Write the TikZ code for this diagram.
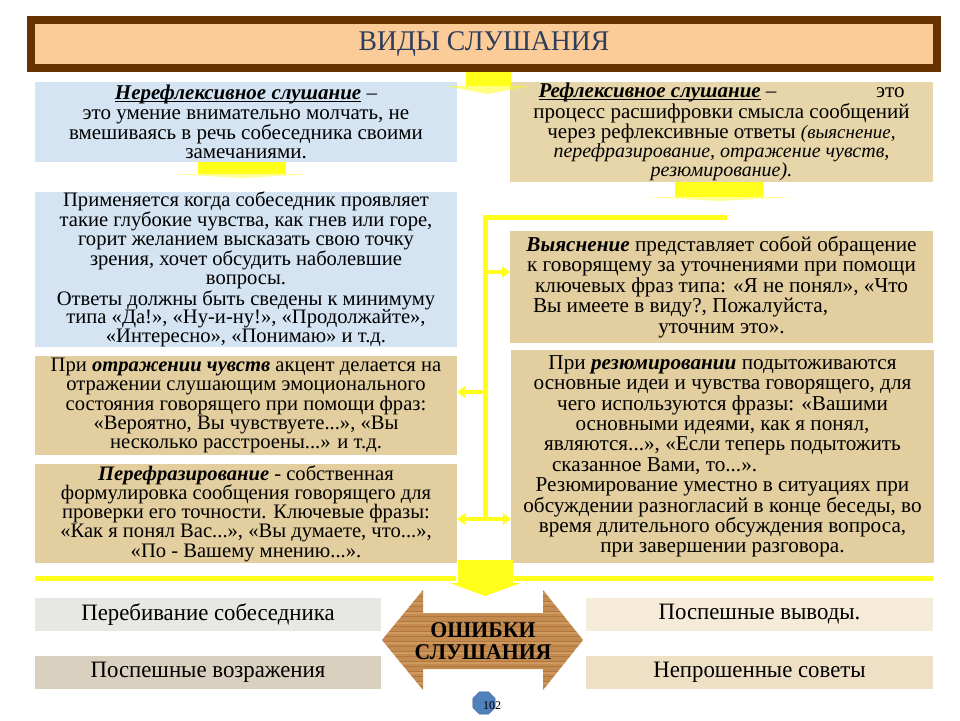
\documentclass[tikz,border=0pt]{standalone}
\usepackage{fontspec}
\setmainfont{Liberation Serif}
\newfontfamily\condf[FakeStretch=0.97]{Liberation Serif}
\usetikzlibrary{arrows.meta,shapes.geometric}
\newcommand\myul[1]{\setbox0\hbox{#1}\rlap{\rule[-2.2pt]{\wd0}{0.9pt}}\box0\relax}
\definecolor{brownb}{HTML}{663300}
\definecolor{peach}{HTML}{FBCB98}
\definecolor{titlec}{HTML}{2E3D5C}
\definecolor{bluebg}{HTML}{D4E4F2}
\definecolor{tanbg}{HTML}{E2CE9E}
\definecolor{tanbgb}{HTML}{E6D6A9}
\definecolor{yel}{HTML}{FFFF1A}
\definecolor{grayA}{HTML}{E7E7E4}
\definecolor{grayB}{HTML}{D9D0BF}
\definecolor{creamA}{HTML}{F5EBD8}
\definecolor{creamB}{HTML}{EEE0C5}
\definecolor{wood}{HTML}{C48B50}
\definecolor{woodd}{HTML}{9E6630}
\definecolor{woodl}{HTML}{D8A468}
\definecolor{pgblue}{HTML}{4F81BD}
\begin{document}
\begin{tikzpicture}[x=1pt,y=-1pt,
  box/.style={anchor=north west,inner sep=0pt,outer sep=0pt,align=center,text=black},
  condtext/.style={font=\fontsize{21}{19.8}\selectfont},
  midl/.style={font=\fontsize{20.6}{19.2}\selectfont},
  midr/.style={font=\fontsize{21.2}{20.4}\selectfont},
  bottext/.style={font=\condf\fontsize{23.5}{21}\selectfont},
  ybar/.style={draw=yel,line width=5pt},
  yarr/.style={draw=yel,line width=4pt,-{Triangle[length=8pt,width=11pt]}},
  yshape/.style={fill=yel}
]
\useasboundingbox (0,0) rectangle (960,720);
\fill[white] (0,0) rectangle (960,720);

% title
\node[box,fill=peach,draw=brownb,line width=8pt,minimum width=906pt,minimum height=48pt,
  font=\condf\fontsize{28.5}{28}\selectfont,text=titlec] (title) at (31,20) {ВИДЫ СЛУШАНИЯ};

% top boxes
\node[box,fill=bluebg,minimum width=422pt,minimum height=80pt,condtext] (nonrefl) at (35,82)
 {\myul{\textbf{\textit{Нерефлексивное слушание}}} –\\
  это умение внимательно молчать, не\\
  вмешиваясь в речь собеседника своими\\
  замечаниями.};
\node[box,fill=tanbgb,minimum width=423pt,minimum height=100pt,font=\fontsize{21}{19}\selectfont] (refl) at (510,82)
 {\makebox[366pt]{\myul{\textbf{\textit{Рефлексивное слушание}}} –\hfill это}\\
  процесс расшифровки смысла сообщений\\
  через рефлексивные ответы {\itshape\fontsize{19}{18}\selectfont (выяснение,}\\
  {\itshape\fontsize{20}{18}\selectfont перефразирование, отражение чувств,}\\
  {\itshape\fontsize{20}{18}\selectfont резюмирование).}};

% yellow block arrows under top boxes
\fill[yshape] ([yshift=-4pt]title.south -| 466,0) rectangle (511,86);
\fill[yel,opacity=0.55] (445,86) -- (530,86) -- (488,94) -- cycle;
\fill[yshape] (nonrefl.south -| 198,0) rectangle (286,174);
\fill[yel,opacity=0.45] (172,174) -- (312,174) -- (242,178) -- cycle;
\fill[yshape] (refl.south -| 675,0) rectangle (763,197);
\fill[yel,opacity=0.45] (645,197) -- (795,197) -- (719,201) -- cycle;

% middle boxes
\node[box,fill=bluebg,minimum width=422pt,minimum height=155pt,font=\fontsize{20.6}{18.9}\selectfont] (usage) at (35,192)
 {Применяется когда собеседник проявляет\\
  такие глубокие чувства, как гнев или горе,\\
  горит желанием высказать свою точку\\
  зрения, хочет обсудить наболевшие\\
  вопросы.\\
  Ответы должны быть сведены к минимуму\\
  типа «Да!», «Ну-и-ну!», «Продолжайте»,\\
  «Интересно», «Понимаю» и т.д.};
\node[box,fill=tanbg,minimum width=422pt,minimum height=99pt,midl] (otr) at (35,356)
 {При \textbf{\textit{отражении чувств}} акцент делается на\\
  отражении слушающим эмоционального\\
  состояния говорящего при помощи фраз:\\
  «Вероятно, Вы чувствуете...», «Вы\\
  несколько расстроены...» и т.д.};
\node[box,fill=tanbg,minimum width=422pt,minimum height=99pt,midl] (pere) at (35,464)
 {\textbf{\textit{Перефразирование}} - собственная\\
  формулировка сообщения говорящего для\\
  проверки его точности. Ключевые фразы:\\
  «Как я понял Вас...», «Вы думаете, что...»,\\
  «По - Вашему мнению...».};
\node[box,fill=tanbg,minimum width=423pt,minimum height=112pt,midr] (vyas) at (510,231)
 {\textbf{\textit{Выяснение}} представляет собой обращение\\
  к говорящему за уточнениями при помощи\\
  ключевых фраз типа: «Я не понял», «Что\\
  \makebox[377pt][l]{Вы имеете в виду?, Пожалуйста,}\\
  уточним это».};
\node[box,fill=tanbg,minimum width=423pt,minimum height=213pt,midr] (rez) at (511,350)
 {При \textbf{\textit{резюмировании}} подытоживаются\\
  основные идеи и чувства говорящего, для\\
  чего используются фразы: «Вашими\\
  основными идеями, как я понял,\\
  являются...», «Если теперь подытожить\\
  \makebox[341pt][l]{сказанное Вами, то...».}\\
  Резюмирование уместно в ситуациях при\\
  обсуждении разногласий в конце беседы, во\\
  время длительного обсуждения вопроса,\\
  при завершении разговора.};

% yellow bracket
\coordinate (bt) at (485,217);
\coordinate (bb) at (485,519);
\draw[ybar] (727,217) -- (bt) -- (bb);
\draw[yarr] (bt |- 0,272) -- (vyas.west |- 0,272);
\draw[yarr] (bt |- 0,392) -- (otr.east |- 0,392);
\draw[yarr] (bb) -- (pere.east |- bb);
\draw[yarr] (bb) -- (rez.west |- bb);

% bottom yellow lines and arrow
\draw[ybar] (35,578) -- (456,578);
\draw[ybar] (514,578) -- (933,578);
\fill[yshape] (458,560) rectangle (513,584);

% error boxes
\node[box,fill=grayA,minimum width=346pt,minimum height=33pt,bottext] (e1) at (35,598) {Перебивание собеседника};
\node[box,fill=grayB,minimum width=346pt,minimum height=33pt,bottext] (e2) at (35,656) {Поспешные возражения};
\node[box,fill=creamA,minimum width=347pt,minimum height=33pt,bottext] (e3) at (586,598) {Поспешные выводы.};
\node[box,fill=creamB,minimum width=347pt,minimum height=33pt,bottext] (e4) at (586,656) {Непрошенные советы};

% wooden double arrow
\def\woodpath{(382,640) -- (423,590) -- (423,613) -- (543,613) -- (543,590) -- (583,640) -- (543,690) -- (543,669) -- (423,669) -- (423,690) -- cycle}
\fill[wood] \woodpath;
\begin{scope}
\clip \woodpath;
\foreach \yy in {591,596,...,690} \draw[woodd,line width=0.7pt,opacity=0.55] (380,\yy) -- (585,\yy);
\foreach \yy in {593,603,...,690} \draw[woodl,line width=1.2pt,opacity=0.6] (380,\yy) -- (585,\yy);
\end{scope}
\fill[yshape] (450,583) -- (521,583) -- (485,596) -- cycle;
\node[align=center,font=\condf\bfseries\fontsize{22.5}{21.5}\selectfont,text=black,inner sep=0pt] (err) at (483,641) {ОШИБКИ\\СЛУШАНИЯ};

% page number
\node[regular polygon,regular polygon sides=8,fill=pgblue,draw=pgblue!70!black,minimum size=24pt,inner sep=0pt] (pgo) at (484,703) {};
\node[font=\fontsize{12}{12}\selectfont,inner sep=0pt] (pgn) at (492,706) {102};
\end{tikzpicture}
\end{document}
